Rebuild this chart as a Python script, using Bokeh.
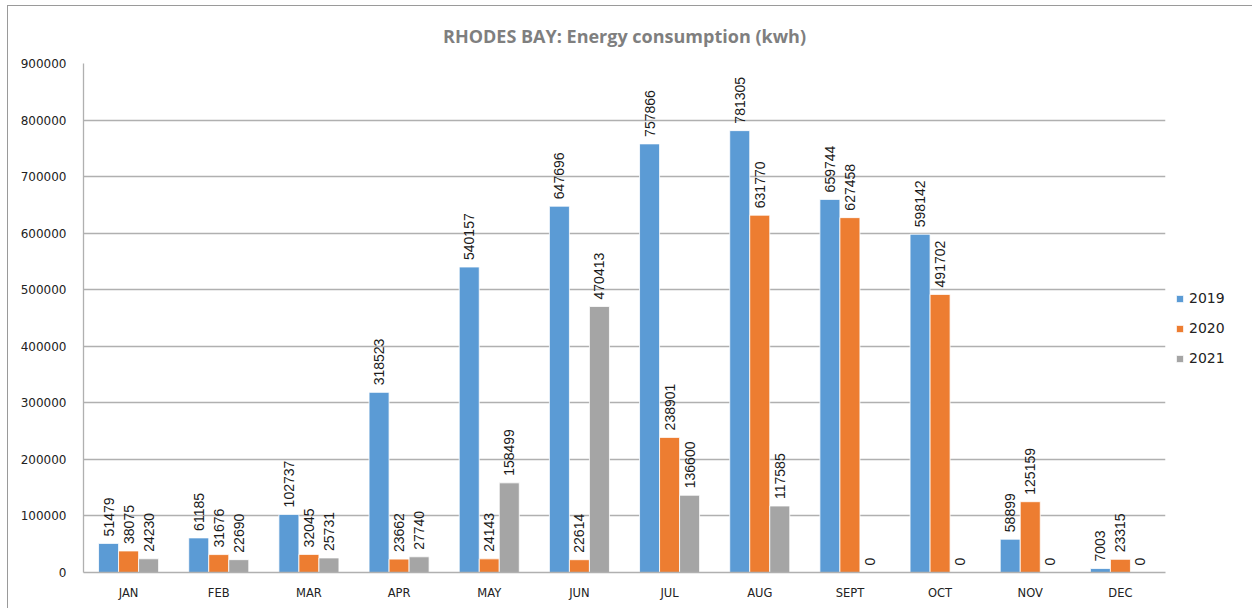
import math
from bokeh.plotting import figure
from bokeh.models import ColumnDataSource, FactorRange, Legend, LegendItem, Title, NumeralTickFormatter, SingleIntervalTicker
from bokeh.transform import dodge
from bokeh.core.properties import value
from bokeh.embed import file_html
from bokeh.resources import INLINE

months = ["JAN", "FEB", "MAR", "APR", "MAY", "JUN", "JUL", "AUG", "SEPT", "OCT", "NOV", "DEC"]
y2019 = [51479, 61185, 102737, 318523, 540157, 647696, 757866, 781305, 659744, 598142, 58899, 7003]
y2020 = [38075, 31676, 32045, 23662, 24143, 22614, 238901, 631770, 627458, 491702, 125159, 23315]
y2021 = [24230, 22690, 25731, 27740, 158499, 470413, 136600, 117585, 0, 0, 0, 0]
series_names = ["2019", "2020", "2021"]
colors = ["#5B9BD5", "#ED7D31", "#A5A5A5"]

p = figure(x_range=FactorRange(factors=months, range_padding=0), y_range=(0, 900000),
           frame_width=1082, frame_height=509, output_backend="svg", toolbar_location=None,
           min_border_left=75, min_border_right=79, min_border_top=57, min_border_bottom=36)
p.styles = {"border": "1px solid #9a9a9a", "border-bottom": "none", "margin": "5px 0px 0px 7px"}

title = Title(text="RHODES BAY: Energy consumption (kwh)", align="center", vertical_align="top",
              text_font="Open Sans", text_font_size="18px", text_font_style="bold",
              text_color="#7f7f7f", offset=0, standoff=28)
p.add_layout(title, "above")

p.outline_line_color = None
p.xgrid.grid_line_color = None
p.ygrid.grid_line_color = "#b0b0b0"
p.ygrid.grid_line_width = 1.3
p.yaxis.ticker = SingleIntervalTicker(interval=100000)
p.yaxis.formatter = NumeralTickFormatter(format="0")
for ax in (p.xaxis[0], p.yaxis[0]):
    ax.major_tick_line_color = None
    ax.minor_tick_line_color = None
    ax.major_tick_out = 0
    ax.major_tick_in = 0
    ax.minor_tick_out = 0
    ax.minor_tick_in = 0
    ax.axis_line_color = "#b0b0b0"
    ax.axis_line_width = 1.3
    ax.major_label_text_font = "DejaVu Sans"
    ax.major_label_text_color = "#222222"
p.yaxis.major_label_text_font_size = "12px"
p.yaxis.major_label_standoff = 17
p.xaxis.major_label_text_font_size = "11.5px"
p.xaxis.major_label_standoff = 13

src = ColumnDataSource(dict(month=months, y2019=y2019, y2020=y2020, y2021=y2021,
                            t2019=[str(v) for v in y2019],
                            t2020=[str(v) for v in y2020],
                            t2021=[str(v) for v in y2021]))
bw = 0.222
offs = [-bw, 0.0, bw]
items = []
for name, col, off in zip(series_names, colors, offs):
    r = p.vbar(x=dodge("month", off, range=p.x_range), top="y" + name, width=bw, source=src,
               fill_color=col, line_color="white", line_width=0.8)
    items.append(LegendItem(label=name, renderers=[r]))
    p.text(x=dodge("month", off, range=p.x_range), y="y" + name, text="t" + name, source=src,
           angle=math.pi / 2, text_align="left", text_baseline="middle", y_offset=-7,
           text_font=value("Liberation Sans"), text_font_size="14px", text_color="#1a1a1a")

legend = Legend(items=items, location=(10, 206), orientation="vertical",
                glyph_width=9, glyph_height=9, label_text_font="DejaVu Sans",
                label_text_font_size="14px", label_text_color="#222222",
                spacing=14, margin=7, padding=5, label_standoff=5,
                border_line_color=None, background_fill_alpha=0)
p.add_layout(legend, "right")

open("out.html", "w").write(file_html(p, INLINE))
